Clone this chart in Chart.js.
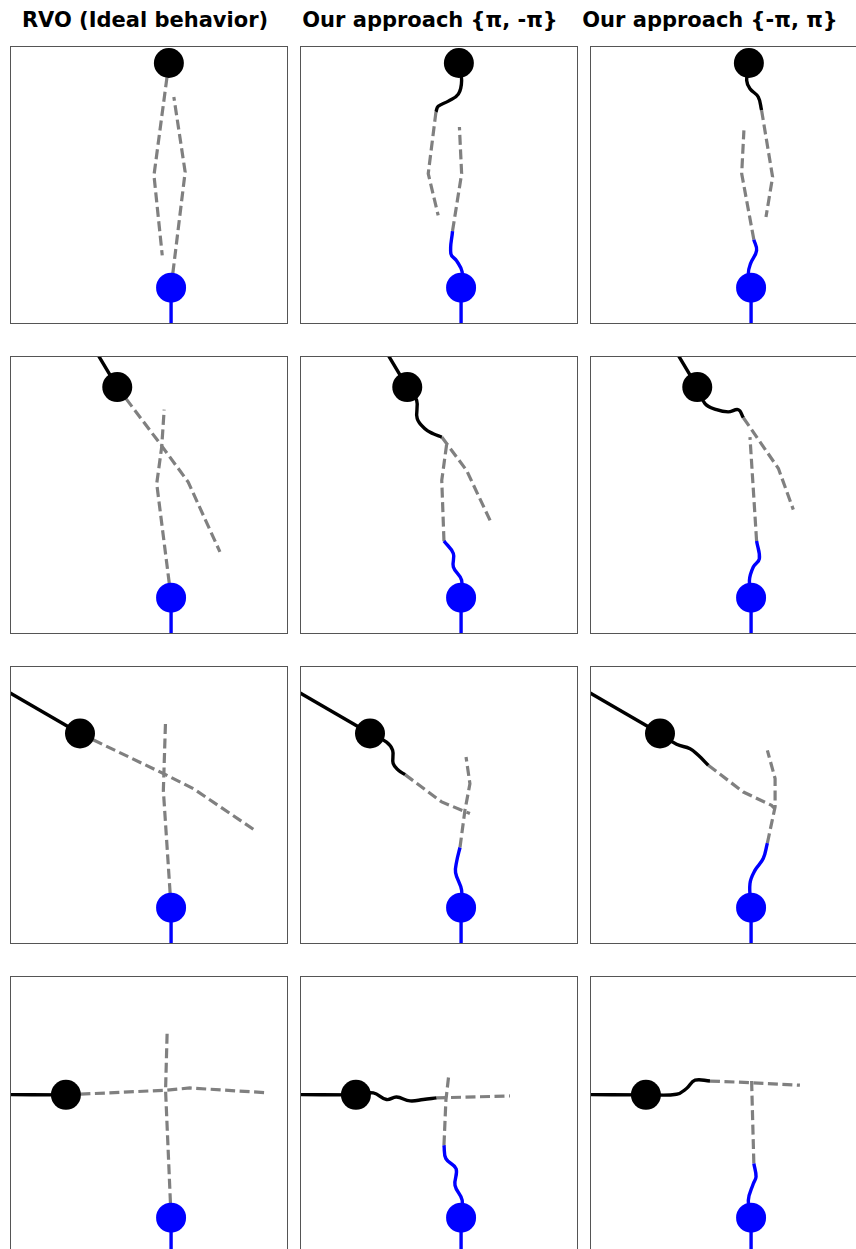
<!DOCTYPE html>
<html>
<head>
<meta charset="utf-8">
<script src="https://cdn.jsdelivr.net/npm/chart.js@4/dist/chart.umd.min.js"></script>
<style>
  html, body { margin: 0; padding: 0; background: #fff; overflow: hidden; }
  body { width: 856px; height: 1249px; position: relative; }
  .ttl { position: absolute; width: 400px; text-align: center; font: bold 21px "DejaVu Sans", sans-serif; line-height: 21px; color: #000; white-space: nowrap; }
  .cell { position: absolute; width: 276px; height: 276px; border: 1px solid #555; }
  .cell canvas { display: block; }
</style>
</head>
<body>
<script>
// column titles
const titles = ["RVO (Ideal behavior)", "Our approach {π, -π}", "Our approach {-π, π}"];
const titleCenters = [145, 430, 710];

// blue agent, same start in every panel (units: panel is 10 x 10)
const bluePos = [5.80, 1.28];
const bluePast = [[5.80, 1.28], [5.80, -0.8]];

// black agent per row (scenario)
const blackPos = [[5.72, 9.42], [3.85, 8.91], [2.50, 7.59], [1.99, 5.73]];
const blackPast = [
    [],
    [[3.85, 8.91], [3.05, 10.25], [2.9, 10.5]],
    [[2.50, 7.59], [-0.5, 9.33]],
    [[1.99, 5.73], [-0.5, 5.74]]
];

// row 0 - head on
const r0c0BlackPlan = [[5.72, 9.42], [5.18, 5.35], [5.48, 2.45]];
const r0c0BluePlan = [[5.80, 1.28], [6.31, 5.47], [5.90, 8.19]];
const r0c1BlackDrive = [[5.72, 9.42], [5.82, 8.79], [5.70, 8.29], [5.34, 8.04], [4.97, 7.85], [4.89, 7.65]];
const r0c1BlackPlan = [[4.89, 7.65], [4.61, 5.41], [4.97, 3.90]];
const r0c1BlueDrive = [[5.80, 1.28], [5.84, 1.85], [5.64, 2.25], [5.43, 2.51], [5.49, 3.33]];
const r0c1BluePlan = [[5.49, 3.33], [5.82, 5.41], [5.74, 7.10]];
const r0c2BlackDrive = [[5.72, 9.42], [5.64, 8.79], [5.76, 8.49], [6.06, 8.19], [6.18, 7.71]];
const r0c2BlackPlan = [[6.18, 7.71], [6.58, 5.29], [6.34, 3.84]];
const r0c2BlueDrive = [[5.80, 1.28], [5.70, 1.79], [5.78, 2.15], [6.00, 2.63], [5.90, 3.02]];
const r0c2BluePlan = [[5.90, 3.02], [5.46, 5.41], [5.54, 6.98]];

// row 1 - steep crossing
const r1c0BlackPlan = [[3.85, 8.91], [5.40, 6.86], [6.42, 5.47], [7.57, 2.94]];
const r1c0BluePlan = [[5.80, 1.28], [5.28, 5.41], [5.46, 6.74], [5.55, 8.09]];
const r1c1BlackDrive = [[3.85, 8.91], [4.19, 8.43], [4.21, 7.77], [4.49, 7.40], [4.79, 7.22], [5.10, 7.10]];
const r1c1BlackPlan = [[5.10, 7.10], [6.00, 5.89], [6.85, 4.08]];
const r1c1BlueDrive = [[5.80, 1.28], [5.82, 1.91], [5.52, 2.39], [5.52, 2.88], [5.18, 3.33]];
const r1c1BluePlan = [[5.18, 3.33], [5.10, 5.53], [5.28, 6.86]];
const r1c2BlackDrive = [[3.85, 8.91], [4.13, 8.31], [4.55, 8.09], [4.97, 8.01], [5.34, 8.09], [5.52, 7.80]];
const r1c2BlackPlan = [[5.52, 7.80], [6.79, 5.96], [7.33, 4.47]];
const r1c2BlueDrive = [[5.80, 1.28], [5.74, 1.91], [5.88, 2.39], [6.10, 2.69], [6.00, 3.33]];
const r1c2BluePlan = [[6.00, 3.33], [5.76, 7.10]];

// row 2 - shallow crossing
const r2c0BlackPlan = [[2.50, 7.59], [5.52, 6.14], [6.61, 5.59], [8.84, 4.08]];
const r2c0BluePlan = [[5.80, 1.28], [5.52, 5.53], [5.60, 8.07]];
const r2c1BlackDrive = [[2.50, 7.59], [3.10, 7.28], [3.32, 6.98], [3.34, 6.50], [3.53, 6.26], [3.77, 6.10]];
const r2c1BlackPlan = [[3.77, 6.10], [5.10, 5.11], [6.12, 4.69]];
const r2c1BlueDrive = [[5.80, 1.28], [5.82, 1.91], [5.60, 2.55], [5.64, 2.95], [5.76, 3.46]];
const r2c1BluePlan = [[5.76, 3.46], [5.94, 4.81], [6.12, 5.77], [5.98, 6.74]];
const r2c2BlackDrive = [[2.50, 7.59], [3.10, 7.20], [3.59, 7.04], [3.89, 6.80], [4.25, 6.44]];
const r2c2BlackPlan = [[4.25, 6.44], [5.52, 5.47], [6.54, 4.99], [6.66, 4.87]];
const r2c2BlueDrive = [[5.80, 1.28], [5.76, 2.15], [5.94, 2.63], [6.24, 3.06], [6.39, 3.62]];
const r2c2BluePlan = [[6.39, 3.62], [6.67, 4.93], [6.67, 5.96], [6.39, 6.98]];

// row 3 - perpendicular crossing
const r3c0BlackPlan = [[1.99, 5.73], [5.64, 5.90], [6.48, 5.98], [9.20, 5.81]];
const r3c0BluePlan = [[5.80, 1.28], [5.60, 5.90], [5.66, 8.09]];
const r3c1BlackDrive = [[1.99, 5.73], [2.62, 5.80], [3.10, 5.56], [3.46, 5.65], [3.95, 5.51], [4.43, 5.56], [4.91, 5.62]];
const r3c1BlackPlan = [[4.91, 5.62], [7.57, 5.69]];
const r3c1BlueDrive = [[5.80, 1.28], [5.84, 1.91], [5.58, 2.45], [5.62, 3.05], [5.25, 3.42], [5.18, 3.90]];
const r3c1BluePlan = [[5.18, 3.90], [5.25, 5.53], [5.36, 6.50]];
const r3c2BlackDrive = [[1.99, 5.73], [3.10, 5.75], [3.46, 5.96], [3.77, 6.26], [4.31, 6.23]];
const r3c2BlackPlan = [[4.31, 6.23], [5.82, 6.17], [7.57, 6.08]];
const r3c2BlueDrive = [[5.80, 1.28], [5.70, 1.91], [5.88, 2.51], [5.98, 2.76], [5.90, 3.24]];
const r3c2BluePlan = [[5.90, 3.24], [5.82, 6.20], [5.82, 6.38]];

const panels = [
    [
        { blackDrive: [], blackPlan: r0c0BlackPlan, blueDrive: [], bluePlan: r0c0BluePlan },
        { blackDrive: r0c1BlackDrive, blackPlan: r0c1BlackPlan, blueDrive: r0c1BlueDrive, bluePlan: r0c1BluePlan },
        { blackDrive: r0c2BlackDrive, blackPlan: r0c2BlackPlan, blueDrive: r0c2BlueDrive, bluePlan: r0c2BluePlan }
    ],
    [
        { blackDrive: [], blackPlan: r1c0BlackPlan, blueDrive: [], bluePlan: r1c0BluePlan },
        { blackDrive: r1c1BlackDrive, blackPlan: r1c1BlackPlan, blueDrive: r1c1BlueDrive, bluePlan: r1c1BluePlan },
        { blackDrive: r1c2BlackDrive, blackPlan: r1c2BlackPlan, blueDrive: r1c2BlueDrive, bluePlan: r1c2BluePlan }
    ],
    [
        { blackDrive: [], blackPlan: r2c0BlackPlan, blueDrive: [], bluePlan: r2c0BluePlan },
        { blackDrive: r2c1BlackDrive, blackPlan: r2c1BlackPlan, blueDrive: r2c1BlueDrive, bluePlan: r2c1BluePlan },
        { blackDrive: r2c2BlackDrive, blackPlan: r2c2BlackPlan, blueDrive: r2c2BlueDrive, bluePlan: r2c2BluePlan }
    ],
    [
        { blackDrive: [], blackPlan: r3c0BlackPlan, blueDrive: [], bluePlan: r3c0BluePlan },
        { blackDrive: r3c1BlackDrive, blackPlan: r3c1BlackPlan, blueDrive: r3c1BlueDrive, bluePlan: r3c1BluePlan },
        { blackDrive: r3c2BlackDrive, blackPlan: r3c2BlackPlan, blueDrive: r3c2BlueDrive, bluePlan: r3c2BluePlan }
    ]
];

const colLeft = [11, 301, 591];
const rowTop = [46.7, 356.7, 666.7, 976.7];
const SIZE = 276;

const toXY = pts => pts.map(p => ({ x: p[0], y: p[1] }));

function line(pts, color, dashed, order) {
    return {
        data: toXY(pts),
        showLine: true,
        borderColor: color,
        borderWidth: dashed ? 3.2 : 3.4,
        borderDash: dashed ? [10, 4.5] : [],
        tension: dashed ? 0 : 0.4,
        pointRadius: 0,
        pointHoverRadius: 0,
        order: order
    };
}

function dot(p, color) {
    return {
        data: toXY([p]),
        showLine: false,
        pointRadius: 15,
        pointHoverRadius: 15,
        pointBackgroundColor: color,
        pointBorderWidth: 0,
        clip: false,
        order: 0
    };
}

titles.forEach((t, i) => {
    const d = document.createElement("div");
    d.className = "ttl";
    d.textContent = t;
    d.style.left = (titleCenters[i] - 200) + "px";
    d.style.top = "10px";
    document.body.appendChild(d);
});

panels.forEach((row, r) => {
    row.forEach((p, c) => {
        const cell = document.createElement("div");
        cell.className = "cell";
        cell.style.left = (colLeft[c] - 1) + "px";
        cell.style.top = (rowTop[r] - 1) + "px";
        const cv = document.createElement("canvas");
        cv.width = SIZE;
        cv.height = SIZE;
        cell.appendChild(cv);
        document.body.appendChild(cell);

        const datasets = [
            line(p.blackPlan, "#808080", true, 2),
            line(p.bluePlan, "#808080", true, 2),
            line(bluePast, "#0000ff", false, 1)
        ];
        if (blackPast[r].length) datasets.push(line(blackPast[r], "#000000", false, 1));
        if (p.blackDrive.length) datasets.push(line(p.blackDrive, "#000000", false, 1));
        if (p.blueDrive.length) datasets.push(line(p.blueDrive, "#0000ff", false, 1));
        datasets.push(dot(blackPos[r], "#000000"));
        datasets.push(dot(bluePos, "#0000ff"));

        new Chart(cv, {
            type: "scatter",
            data: { datasets: datasets },
            options: {
                responsive: false,
                animation: false,
                events: [],
                layout: { padding: 0, autoPadding: false },
                plugins: { legend: { display: false }, tooltip: { enabled: false } },
                scales: {
                    x: { type: "linear", min: 0, max: 10, display: false },
                    y: { type: "linear", min: 0, max: 10, display: false }
                }
            }
        });
    });
});
</script>
</body>
</html>
